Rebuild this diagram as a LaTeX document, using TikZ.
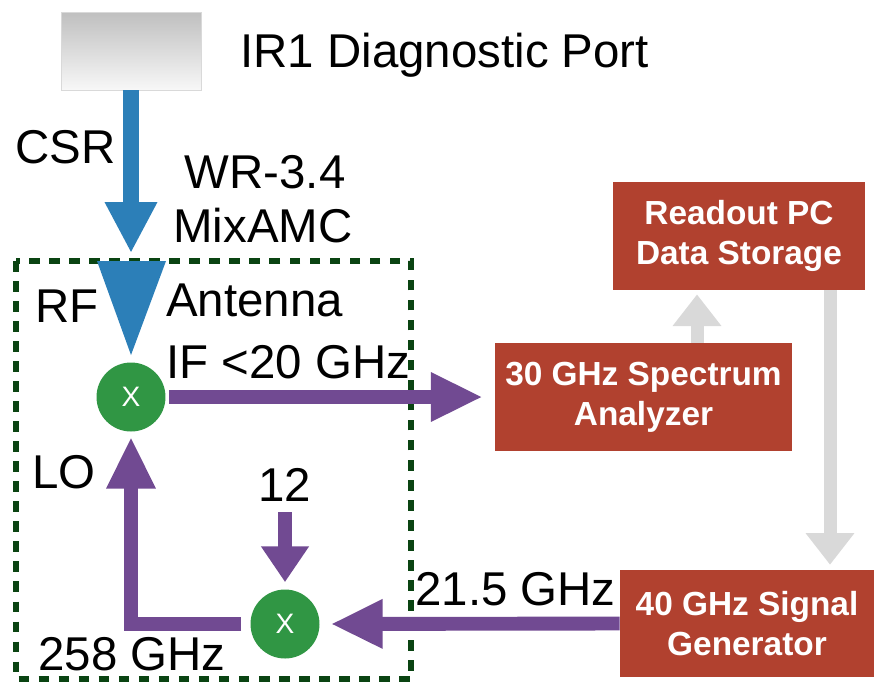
\documentclass[tikz,border=0pt]{standalone}
\usepackage{fontspec}
\setmainfont{Liberation Sans}
\usetikzlibrary{arrows.meta}
\definecolor{csrblue}{HTML}{2C7FB8}
\definecolor{sigpurple}{HTML}{714A92}
\definecolor{mixgreen}{HTML}{309644}
\definecolor{boxred}{HTML}{B1412F}
\definecolor{dashgreen}{HTML}{0A4412}
\definecolor{datagray}{HTML}{D9D9D9}
\begin{document}
\begin{tikzpicture}[x=0.02cm,y=-0.02cm,
  lbl/.style={font=\fontsize{27}{30}\selectfont,inner sep=0},
  box/.style={fill=boxred,text=white,align=center,inner sep=0,font=\fontsize{19}{22.7}\selectfont\bfseries},
  mixer/.style={circle,fill=mixgreen,text=white,minimum size=1.38cm,inner sep=0,font=\fontsize{16}{16}\selectfont},
  csrarrow/.style={draw=csrblue,line width=9.1pt,-{Triangle[length=29pt,width=27.8pt]}},
  sigarrow/.style={draw=sigpurple,line width=7.9pt,line join=miter,-{Triangle[length=29.5pt,width=26pt]}},
  dataarrow/.style={draw=datagray,line width=7.4pt,-{Triangle[length=18pt,width=26.6pt]}}]
\useasboundingbox (0,0) rectangle (874,684);
% port and beam
\node[minimum width=2.8cm,minimum height=1.56cm,inner sep=0,top color=gray!50,bottom color=gray!6,draw=gray!30] (port) at (131,51) {};
\node[lbl,anchor=base west] (portlbl) at (240,67) {IR1 Diagnostic Port};
\node[lbl,anchor=base west] (csr) at (15,163) {CSR};
\node[lbl,anchor=base] (wr) at (265,188) {WR-3.4};
\node[lbl,anchor=base] (mixamc) at (263,242) {MixAMC};
% receiver box
\draw[dashgreen,line width=3pt,dash pattern=on 6pt off 5.4pt] (16,261) rectangle (411,679);
\coordinate (anttop) at (131,261);
\fill[csrblue] (97,261) -- (166,261) -- (131,355) -- cycle;
\draw[csrarrow,shorten >=4.5pt] (port.south) -- (anttop);
\node[lbl,anchor=base west] (rf) at (35,322) {RF};
\node[lbl,anchor=base west] (antlbl) at (166,316) {Antenna};
\node[lbl,anchor=base west] (iflbl) at (166,378) {IF <20 GHz};
\node[mixer] (mixa) at (131,397) {X};
\node[mixer] (mixb) at (285,624) {X};
\node[lbl,anchor=base west] (lo) at (32,488) {LO};
\node[lbl,anchor=base] (twelve) at (285,501) {12};
\node[lbl,anchor=base west] (lofreq) at (38,670) {258 GHz};
\node[lbl,anchor=base west] (reffreq) at (415,605) {21.5 GHz};
% instruments
\node[box,minimum width=5.94cm,minimum height=2.16cm] (spec) at (643.5,397) {30 GHz Spectrum\\Analyzer};
\node[box,minimum width=5.04cm,minimum height=2.16cm] (readout) at (739,236) {Readout PC\\Data Storage};
\node[box,minimum width=5.08cm,minimum height=2.14cm] (siggen) at (747,623.5) {40 GHz Signal\\Generator};
% connections
\coordinate (upx) at (697,0);
\coordinate (downx) at (830,0);
\draw[sigarrow,shorten <=2pt,shorten >=6.8pt] (mixa.east) -- (spec.west);
\draw[dataarrow,shorten >=2.3pt] (spec.north -| upx) -- (readout.south -| upx);
\draw[dataarrow,shorten >=2.8pt] (readout.south -| downx) -- (siggen.north -| downx);
\draw[sigarrow,shorten >=6.2pt] (siggen.west) -- (mixb.east);
\draw[sigarrow,shorten <=5.1pt,shorten >=2.8pt] (mixb.west) -| (mixa.south);
\draw[sigarrow,-{Triangle[length=20.4pt,width=26pt]},shorten <=6.2pt,shorten >=4pt] (twelve.south) -- (mixb.north);
\end{tikzpicture}
\end{document}
